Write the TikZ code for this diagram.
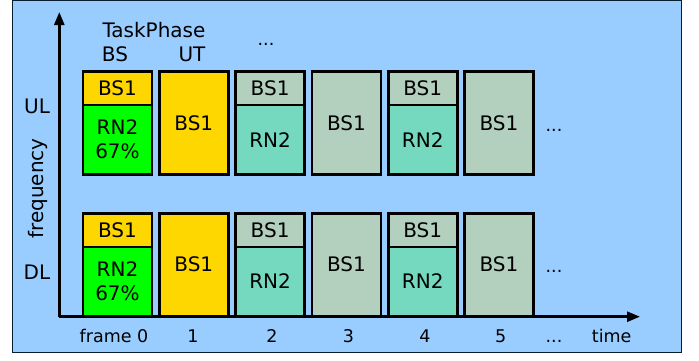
\documentclass[tikz,border=0pt]{standalone}
\usepackage{fontspec}
\setmainfont{DejaVu Sans}
\usepackage{tikz}
\usetikzlibrary{arrows.meta}
\definecolor{skyblue}{RGB}{153,204,255}
\definecolor{framecol}{RGB}{10,30,50}
\definecolor{bsyellow}{RGB}{255,215,0}
\definecolor{rngreen}{RGB}{0,255,0}
\definecolor{rnteal}{RGB}{116,217,191}
\definecolor{bsgrey}{RGB}{179,207,189}

\tikzset{
  cell/.style={draw=black, line width=2.6pt, rectangle, inner sep=0pt,
    minimum width=69pt, font=\fontsize{20}{24}\selectfont, align=center},
  topcell/.style={cell, minimum height=33.5pt},
  lowcell/.style={cell, minimum height=69.2pt},
  fullcell/.style={cell, minimum height=102.7pt},
  lbl/.style={font=\fontsize{20}{24}\selectfont, inner sep=0pt},
  axlbl/.style={font=\fontsize{17.5}{20}\selectfont, inner sep=0pt, anchor=base},
}

\begin{document}
\begin{tikzpicture}[x=1pt,y=-1pt]
    \useasboundingbox (0,0) rectangle (699,360);

        % background panel
        \draw[fill=skyblue, draw=framecol, line width=1pt] (12.3,0.5) rectangle (681.7,352.7);

        % axes
        \coordinate (O) at (59.3,316.7);
        \coordinate (Ytop) at (59.3,12);
        \coordinate (Xend) at (640,316.7);
        \begin{scope}[>={Triangle[length=13pt,width=10pt]}, line width=2.6pt]
        \path [->] (O) edge (Ytop);
        \path [->] (O) edge (Xend);
        \end{scope}

        % UL row, use the tuple for location
        \node[topcell, fill=bsyellow] (U0t) at (117.5,88.25) {BS1};
        \node[lowcell, fill=rngreen] (U0b) at (117.5,139.6) {RN2\\67\%};
        \node[fullcell, fill=bsyellow] (U1) at (193.8,122.85) {BS1};
        \node[topcell, fill=bsgrey] (U2t) at (270.1,88.25) {BS1};
        \node[lowcell, fill=rnteal] (U2b) at (270.1,139.6) {RN2};
        \node[fullcell, fill=bsgrey] (U3) at (346.4,122.85) {BS1};
        \node[topcell, fill=bsgrey] (U4t) at (422.7,88.25) {BS1};
        \node[lowcell, fill=rnteal] (U4b) at (422.7,139.6) {RN2};
        \node[fullcell, fill=bsgrey] (U5) at (499,122.85) {BS1};

        % DL row
        \node[topcell, fill=bsyellow] (D0t) at (117.5,230.05) {BS1};
        \node[lowcell, fill=rngreen] (D0b) at (117.5,281.4) {RN2\\67\%};
        \node[fullcell, fill=bsyellow] (D1) at (193.8,264.65) {BS1};
        \node[topcell, fill=bsgrey] (D2t) at (270.1,230.05) {BS1};
        \node[lowcell, fill=rnteal] (D2b) at (270.1,281.4) {RN2};
        \node[fullcell, fill=bsgrey] (D3) at (346.4,264.65) {BS1};
        \node[topcell, fill=bsgrey] (D4t) at (422.7,230.05) {BS1};
        \node[lowcell, fill=rnteal] (D4b) at (422.7,281.4) {RN2};
        \node[fullcell, fill=bsgrey] (D5) at (499,264.65) {BS1};

        % headings
        \begin{scope}[every node/.style={lbl, anchor=base}]
        \node (phase) at (154,37.7) {TaskPhase};
        \node (hBS) at (115,61) {BS};
        \node (hUT) at (192,61) {UT};
        \node (UL) at (37,113.3) {UL};
        \node (DL) at (37,279.3) {DL};
        \end{scope}
        \node[lbl, rotate=90] (freq) at (37.5,188.5) {frequency};
        \begin{scope}[every node/.style={axlbl}]
        \node (hdots) at (266,45) {...};
        \node (Udots) at (554,131) {...};
        \node (Ddots) at (554,272.5) {...};
        \end{scope}

        % time labels
        \begin{scope}[every node/.style={axlbl}]
        \node (t0) at (114,342.7) {frame 0};
        \node (t1) at (193,342.7) {1};
        \node (t2) at (272,342.7) {2};
        \node (t3) at (348.5,342.7) {3};
        \node (t4) at (425,342.7) {4};
        \node (t5) at (500.7,342.7) {5};
        \node (tdots) at (554,342.7) {...};
        \node (time) at (611.7,342.7) {time};
        \end{scope}

\end{tikzpicture}
\end{document}
